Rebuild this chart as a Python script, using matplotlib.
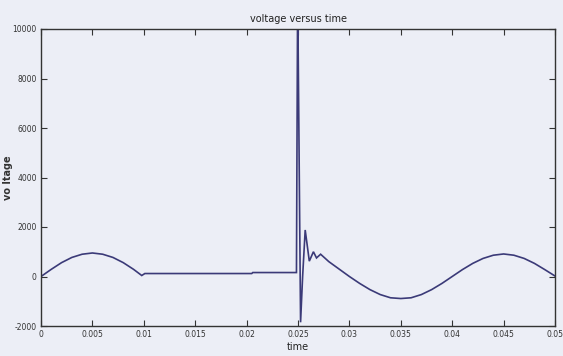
import matplotlib
matplotlib.use("Agg")
import matplotlib.pyplot as plt

# ---- data ----
time = [0.000, 0.001, 0.002, 0.003, 0.004, 0.005, 0.006, 0.007, 0.008, 0.009, 0.0098,
        0.0101, 0.0205, 0.0206, 0.02485,
        0.02495, 0.02500, 0.02525, 0.02545, 0.02570, 0.02610, 0.02650, 0.02680, 0.02720,
        0.028, 0.029, 0.030, 0.031, 0.032, 0.033, 0.034, 0.035, 0.036, 0.037, 0.038,
        0.039, 0.040, 0.041, 0.042, 0.043, 0.044, 0.045, 0.046, 0.047, 0.048, 0.049, 0.050]
voltage = [0, 290, 560, 770, 900, 950, 900, 770, 560, 290, 40,
           120, 120, 160, 160,
           10000, 10000, -1850, 0, 1880, 620, 1000, 750, 900,
           600, 300, 0, -280, -530, -730, -860, -890, -860, -730, -530,
           -280, 0, 280, 530, 730, 860, 910, 860, 730, 530, 280, 20]

xticks = [0, 0.005, 0.01, 0.015, 0.02, 0.025, 0.03, 0.035, 0.04, 0.045, 0.05]
xticklabels = ["0", "0.005", "0.01", "0.015", "0.02", "0.025", "0.03", "0.035", "0.04", "0.045", "0.05"]
yticks = [-2000, 0, 2000, 4000, 6000, 8000, 10000]
yticklabels = ["-2000", "0", "2000", "4000", "6000", "8000", "10000"]

BG = "#eceef6"
LINE = "#3b3a78"

fig = plt.figure(figsize=(5.63, 3.56), dpi=100, facecolor=BG)

ax = fig.add_axes([41 / 563, 1 - 326 / 356, (555 - 41) / 563, (326 - 29) / 356])
ax.patch.set_alpha(0)

ax.plot(time, voltage, color=LINE, lw=1.2, solid_joinstyle="miter")

ax.set_xlim(0, 0.05)
ax.set_ylim(-2000, 10000)
ax.set_xticks(xticks)
ax.set_xticklabels(xticklabels)
ax.set_yticks(yticks)
ax.set_yticklabels(yticklabels)
ax.tick_params(direction="in", length=4, width=0.8, top=True, right=True,
               labelsize=5.5, colors="#333333", pad=3)
for sp in ax.spines.values():
    sp.set_color("#333333")
    sp.set_linewidth(1.0)

ax.set_title("voltage versus time", fontsize=7, color="#222222", pad=5)
ax.set_xlabel("time", fontsize=7, color="#222222", labelpad=2)
ax.set_ylabel("vo ltage", fontsize=7, color="#333333", fontweight="bold")
ax.yaxis.set_label_coords(-0.055, 0.5)

fig.savefig("out.png", dpi=100, facecolor=BG)
